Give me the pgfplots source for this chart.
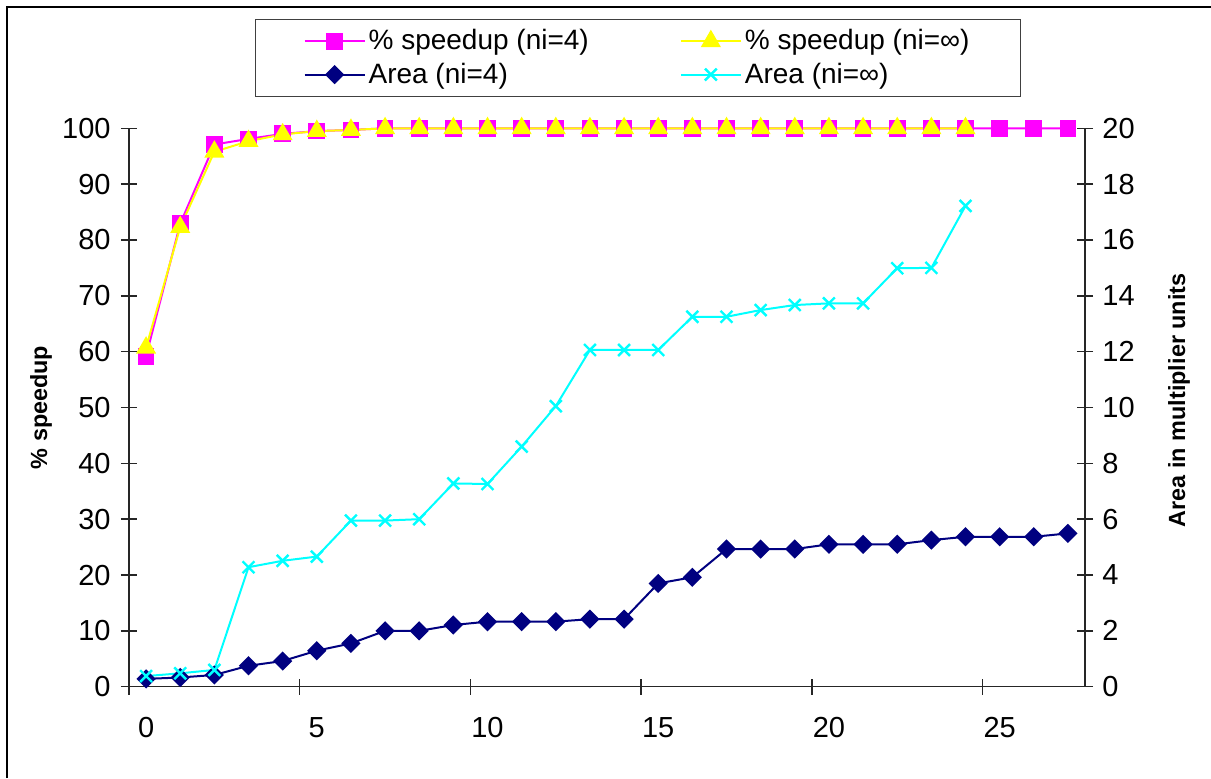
\documentclass[border=0pt]{standalone}
\usepackage{pgfplots}
\pgfplotsset{compat=1.18}
\usepackage{fontspec}
\setmainfont{Liberation Sans}
\definecolor{mag}{RGB}{255,0,255}
\definecolor{yel}{RGB}{255,255,0}
\definecolor{nav}{RGB}{0,0,128}
\definecolor{cya}{RGB}{0,255,255}

\pgfplotstableread{
x y
0 59.2
1 82.9
2 97.1
3 98.1
4 99.0
5 99.5
6 99.7
7 100
8 100
9 100
10 100
11 100
12 100
13 100
14 100
15 100
16 100
17 100
18 100
19 100
20 100
21 100
22 100
23 100
24 100
25 100
26 100
27 100
}\spfour

\pgfplotstableread{
x y
0 60.7
1 82.3
2 95.8
3 97.7
4 98.9
5 99.5
6 99.7
7 100
8 100
9 100
10 100
11 100
12 100
13 100
14 100
15 100
16 100
17 100
18 100
19 100
20 100
21 100
22 100
23 100
24 100
}\spinf

\pgfplotstableread{
x y
0 0.28
1 0.33
2 0.42
3 0.75
4 0.92
5 1.29
6 1.55
7 2.00
8 2.00
9 2.21
10 2.33
11 2.33
12 2.33
13 2.42
14 2.42
15 3.70
16 3.92
17 4.93
18 4.93
19 4.93
20 5.10
21 5.10
22 5.10
23 5.25
24 5.37
25 5.37
26 5.37
27 5.49
}\arfour

\pgfplotstableread{
x y
0 0.38
1 0.48
2 0.60
3 4.28
4 4.51
5 4.66
6 5.95
7 5.95
8 6.00
9 7.28
10 7.26
11 8.60
12 10.05
13 12.06
14 12.06
15 12.06
16 13.25
17 13.25
18 13.49
19 13.67
20 13.73
21 13.73
22 14.99
23 15.00
24 17.22
}\arinf

\pgfplotsset{
 mystyle/.style={
  scale only axis, width=478pt, height=279.2pt,
  at={(64.5pt,45.65pt)}, anchor=south west,
  xmin=-0.5, xmax=27.5,
  tick align=center, major tick length=8pt,
  /pgf/number format/assume math mode=true,
  ticklabel style={font=\fontsize{14.5}{17}\selectfont, inner sep=0pt},
  axis line style={line width=0.75pt, black!85},
  every tick/.style={line width=0.75pt, black!85},
  label style={font=\bfseries\fontsize{11.7}{14}\selectfont},
  clip=false,
 },
 spfourstyle/.style={mag, line width=1pt, mark=square*, mark size=3.7pt, mark options={solid, fill=mag, draw=mag}},
 spinfstyle/.style={yel, line width=1pt, mark=triangle*, mark size=4.8pt, mark options={solid, fill=yel, draw=yel}},
 arfourstyle/.style={nav, line width=1pt, mark=square*, mark size=2.9pt, mark options={solid, rotate=45, fill=nav, draw=nav}},
 arinfstyle/.style={cya, line width=1pt, mark=x, mark size=4.2pt, mark options={solid, line width=1.2pt}},
}

\begin{document}
\begin{tikzpicture}
\useasboundingbox (0,0) rectangle (605.5pt,389pt);
\fill[white] (0,0) rectangle (605.5pt,389pt);
\draw[line width=1pt, black] (3.65pt,0pt) -- (3.65pt,385.35pt) -- (605.5pt,385.35pt);

\begin{axis}[mystyle,
  axis x line*=bottom, axis y line*=left,
  ymin=0, ymax=100, ytick={0,10,...,100},
  yticklabel style={xshift=-5pt},
  xtick={-0.5,4.5,9.5,14.5,19.5,24.5}, xticklabels={},
  extra x ticks={0,5,10,15,20,25},
  extra x tick labels={0,5,10,15,20,25},
  extra x tick style={major tick length=0pt, xticklabel style={yshift=-15pt}},
  ylabel={\% speedup},
  ylabel style={at={(axis description cs:-0.092,0.5)}, anchor=center},
]
\addplot[spfourstyle] table[x=x,y=y] {\spfour};
\addplot[spinfstyle] table[x=x,y=y] {\spinf};
\end{axis}

\begin{axis}[mystyle,
  axis x line=none, axis y line*=right,
  ymin=0, ymax=20, ytick={0,2,...,20},
  yticklabel style={xshift=4.5pt},
  ylabel={Area in multiplier units},
  ylabel style={at={(axis description cs:1.0983,0.513)}, anchor=center},
  legend columns=2,
  legend cell align=left,
  legend style={at={(axis description cs:0.1318,1.1957)}, anchor=north west,
    draw=black!75, line width=0.6pt, fill=white,
    font=\fontsize{14}{16}\selectfont,
    inner xsep=24pt, inner ysep=3.5pt,
    nodes={inner sep=1.5pt},
    row sep=2pt,
    /tikz/every even column/.append style={column sep=44pt}},
  legend image code/.code={\draw[#1, mark repeat=2, mark phase=2] plot coordinates {(0pt,0pt)(15pt,0pt)(30pt,0pt)};},
]
\addlegendimage{spfourstyle}
\addlegendentry{\% speedup (ni=4)}
\addlegendimage{spinfstyle}
\addlegendentry{\% speedup (ni=∞)}
\addplot[arfourstyle] table[x=x,y=y] {\arfour};
\addlegendentry{Area (ni=4)}
\addplot[arinfstyle] table[x=x,y=y] {\arinf};
\addlegendentry{Area (ni=∞)}
\end{axis}
\end{tikzpicture}
\end{document}
